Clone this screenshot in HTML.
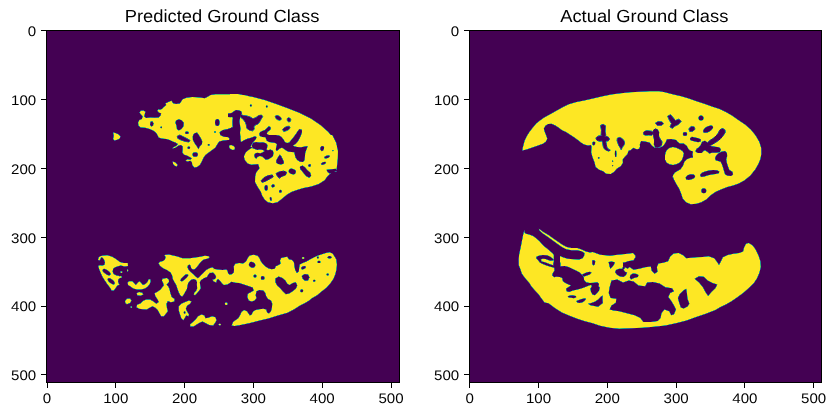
<!DOCTYPE html>
<html><head><meta charset="utf-8"><title>Predicted vs Actual Ground Class</title>
<style>html,body{margin:0;padding:0;background:#fff}body{width:836px;height:416px;overflow:hidden}svg{display:block}text{font-family:"Liberation Sans",sans-serif;fill:#000;text-rendering:geometricPrecision}</style></head><body>
<svg width="836" height="416" viewBox="0 0 836 416">
<rect x="0" y="0" width="836" height="416" fill="#fff"/>
<defs>
<filter id="vir" filterUnits="userSpaceOnUse" x="40" y="24" width="790" height="366" color-interpolation-filters="sRGB"><feGaussianBlur stdDeviation="0.38"/><feComponentTransfer><feFuncR type="table" tableValues="0.2670 0.2770 0.2823 0.2829 0.2788 0.2706 0.2590 0.2450 0.2297 0.2143 0.1994 0.1856 0.1727 0.1607 0.1490 0.1378 0.1276 0.1206 0.1206 0.1323 0.1579 0.1966 0.2461 0.3041 0.3692 0.4401 0.5160 0.5958 0.6785 0.7624 0.8456 0.9261 0.9932"/><feFuncG type="table" tableValues="0.0049 0.0503 0.0950 0.1359 0.1755 0.2141 0.2515 0.2877 0.3224 0.3556 0.3876 0.4186 0.4488 0.4785 0.5081 0.5375 0.5669 0.5964 0.6258 0.6550 0.6838 0.7118 0.7389 0.7647 0.7889 0.8111 0.8312 0.8487 0.8637 0.8764 0.8873 0.8973 0.9062"/><feFuncB type="table" tableValues="0.3294 0.3757 0.4173 0.4534 0.4834 0.5071 0.5247 0.5373 0.5457 0.5512 0.5546 0.5568 0.5579 0.5581 0.5573 0.5549 0.5506 0.5436 0.5335 0.5197 0.5017 0.4792 0.4520 0.4199 0.3829 0.3410 0.2943 0.2433 0.1895 0.1371 0.0997 0.1041 0.1439"/><feFuncA type="linear" slope="0" intercept="1"/></feComponentTransfer></filter>
<clipPath id="clip0"><rect x="46.5" y="30.5" width="353.0" height="352.0"/></clipPath>
<clipPath id="clip1"><rect x="469.5" y="30.5" width="352.0" height="352.0"/></clipPath>
</defs>
<g clip-path="url(#clip0)"><g filter="url(#vir)">
<rect x="43.5" y="27.5" width="359.0" height="358.0" fill="#000"/>
<g id="left-mask">
<polygon points="248.1,96.0 242.3,94.9 234.6,94.3 223.1,94.3 215.4,94.3 210.6,94.9 207.7,96.8 204.8,98.2 200.0,97.4 192.3,97.0 186.5,97.8 182.7,99.3 181.2,101.6 179.8,103.5 176.0,103.9 173.1,103.2 171.5,100.8 168.3,102.0 165.4,103.5 166.3,105.1 163.8,107.0 161.9,108.9 160.0,109.7 158.3,109.3 157.3,110.8 159.2,112.8 161.2,113.2 160.6,115.5 158.7,117.4 154.8,117.8 150.4,117.4 146.2,118.0 144.2,116.6 144.8,114.1 145.4,111.8 143.5,110.5 140.8,110.7 139.4,112.4 140.8,114.3 142.7,116.2 141.9,118.9 139.4,119.9 138.1,122.4 138.5,125.8 140.8,127.4 145.2,127.8 149.6,128.9 153.1,130.5 155.8,132.4 157.3,134.7 158.7,137.4 161.5,138.5 166.3,138.9 169.6,140.1 172.7,141.6 175.4,142.4 177.9,143.9 176.5,145.8 173.1,147.4 172.5,148.5 175.4,147.8 178.1,145.8 180.8,144.9 182.7,146.2 182.7,149.7 182.3,152.6 184.2,154.7 186.9,155.5 189.6,157.0 191.9,158.3 190.4,159.7 187.5,159.3 185.6,160.8 187.5,161.6 190.4,160.8 191.9,162.2 192.3,165.1 194.2,167.4 197.1,167.0 200.0,164.7 201.9,161.2 203.5,157.8 205.4,155.1 208.7,152.6 212.5,149.7 215.4,147.4 217.3,144.3 219.2,141.6 223.1,140.5 227.9,140.1 248.1,140.1" fill="#fff"/>
<polygon points="113.1,132.4 115.4,133.0 118.3,134.3 120.4,136.2 119.8,138.5 117.3,139.7 114.4,140.5 113.1,139.1 113.8,135.8" fill="#fff"/>
<polygon points="172.7,161.6 175.4,162.4 177.5,164.7 176.9,166.6 174.6,165.8 173.1,163.9" fill="#fff"/>
<polygon points="230.0,93.9 237.7,94.1 245.4,95.5 253.1,97.0 264.6,100.1 276.2,103.9 287.7,108.2 299.2,112.8 310.8,118.5 320.4,125.1 328.1,131.8 333.5,138.2 336.3,144.9 337.9,151.6 337.7,159.3 336.9,167.0 336.2,172.0 260.8,172.0 252.5,147.6 240.0,142.0 233.8,140.1 230.0,140.1" fill="#fff"/>
<polygon points="252.5,147.5 249.2,149.4 245.8,152.3 243.8,156.2 244.8,160.0 247.7,163.5 251.5,164.8 256.3,164.2 261.2,163.8 262.1,165.8 259.2,168.7 256.2,172.5 255.2,176.3 255.0,182.1 257.7,186.9 260.8,191.7 262.1,195.6 264.6,199.4 267.9,202.3 272.7,203.3 277.5,202.3 282.3,198.5 287.1,194.6 291.9,191.7 297.7,189.8 303.5,187.9 311.2,186.5 318.8,184.0 324.6,180.2 327.5,176.3 330.4,173.5 334.2,170.6 336.2,165.8 337.3,158.1 337.7,150.4 336.2,142.7 332.3,135.0 253.5,135.0" fill="#fff"/>
<polygon points="150.4,121.8 152.3,121.2 153.5,123.2 153.1,125.8 151.2,126.6 150.0,124.7" fill="#000"/>
<ellipse cx="161.2" cy="127.4" rx="0.8" ry="0.8" transform="rotate(0 161.2 127.4)" fill="#000"/>
<polygon points="176.0,120.5 178.8,119.3 181.7,120.3 183.8,122.8 183.5,126.2 181.5,128.9 178.8,130.5 176.9,128.9 176.5,125.7 175.4,122.8" fill="#000"/>
<ellipse cx="186.9" cy="132.8" rx="1.9" ry="1.3" transform="rotate(0 186.9 132.8)" fill="#000"/>
<polygon points="177.3,136.2 179.8,135.1 183.7,137.0 187.5,138.9 190.0,140.5 188.8,142.0 184.6,141.2 180.4,139.7 177.7,138.2" fill="#000" stroke="#000" stroke-width="0.7" stroke-linejoin="round"/>
<polygon points="194.6,133.3 197.1,132.4 199.0,135.3 201.0,138.5 202.3,141.6 201.9,144.3 199.6,146.8 198.5,149.3 197.1,146.8 194.8,143.5 192.9,140.1 192.7,136.6 193.5,134.3" fill="#000"/>
<ellipse cx="188.8" cy="147.8" rx="1.3" ry="1.2" transform="rotate(0 188.8 147.8)" fill="#000"/>
<ellipse cx="195.2" cy="154.5" rx="2.7" ry="2.3" transform="rotate(0 195.2 154.5)" fill="#000"/>
<ellipse cx="208.7" cy="144.9" rx="1.0" ry="0.8" transform="rotate(0 208.7 144.9)" fill="#000"/>
<ellipse cx="215.0" cy="132.0" rx="0.8" ry="0.8" transform="rotate(0 215.0 132.0)" fill="#000"/>
<ellipse cx="217.3" cy="122.4" rx="2.3" ry="3.5" transform="rotate(0 217.3 122.4)" fill="#000"/>
<polygon points="220.2,132.4 223.1,130.5 227.9,129.5 231.7,128.2 234.6,127.6 238.5,130.5 238.5,142.4 228.8,142.4 230.0,138.9 229.2,136.6 224.0,136.2 220.8,134.7" fill="#000" stroke="#000" stroke-width="1.2" stroke-linejoin="round"/>
<polygon points="228.0,113.5 231.5,113.0 234.0,111.2 235.8,110.0 238.6,110.2 241.2,111.2 242.0,113.2 241.0,115.2 240.2,117.5 239.5,121.2 240.0,125.0 240.5,128.8 240.0,132.8 240.5,137.5 228.0,137.5 228.0,129.0 230.5,128.8 232.8,127.8 232.5,125.0 232.4,121.2 232.8,118.0 232.2,117.0 230.5,117.2 228.0,117.0" fill="#000"/>
<polygon points="241.0,114.8 243.6,115.6 246.8,116.0 249.9,116.9 253.0,118.8 256.1,117.5 258.6,115.6 261.5,115.1 262.6,116.5 261.0,119.2 259.5,121.9 257.8,124.0 255.2,125.0 253.8,126.8 254.2,129.2 252.5,130.8 249.2,130.0 246.8,128.2 246.4,125.0 245.5,122.5 243.8,120.0 242.0,118.2 240.5,116.9" fill="#000" stroke="#000" stroke-width="0.7" stroke-linejoin="round"/>
<polygon points="275.2,116.2 277.0,115.5 279.2,116.2 281.0,117.8 281.2,119.4 279.8,120.2 277.8,119.8 276.0,118.5" fill="#000" stroke="#000" stroke-width="0.6" stroke-linejoin="round"/>
<polygon points="287.1,118.8 288.2,117.8 290.0,118.2 290.9,119.8 290.2,121.5 288.8,122.0 287.4,120.8" fill="#000" stroke="#000" stroke-width="0.5" stroke-linejoin="round"/>
<ellipse cx="250.9" cy="105.6" rx="1.0" ry="1.0" transform="rotate(0 250.9 105.6)" fill="#000"/>
<ellipse cx="266.8" cy="106.5" rx="0.9" ry="0.9" transform="rotate(0 266.8 106.5)" fill="#000"/>
<polygon points="320.2,149.0 321.5,146.9 323.2,146.2 324.2,147.5 323.2,149.5 321.5,150.8" fill="#000"/>
<polygon points="231.0,127.5 239.5,127.5 239.0,131.2 239.8,135.0 240.5,138.8 241.0,141.9 243.5,140.6 247.2,138.8 251.0,137.8 254.8,136.2 256.6,136.9 256.0,138.8 254.8,140.6 252.9,142.5 251.6,144.8 250.0,147.8 247.5,150.0 245.4,152.5 244.1,155.6 243.8,158.8 244.2,161.2 241.0,170.0 231.0,170.0" fill="#000"/>
<polygon points="268.8,126.2 270.5,127.0 270.8,129.0 269.2,130.8 267.5,132.0 266.8,133.8 268.8,135.0 272.2,135.0 276.0,135.1 279.1,135.6 281.6,136.9 283.5,139.4 285.0,141.9 287.0,142.9 289.1,142.5 290.6,140.8 292.5,138.5 294.4,136.0 296.2,133.5 297.8,131.0 299.4,129.1 301.9,129.8 302.0,132.2 301.0,135.2 299.5,138.5 297.8,141.5 295.6,144.0 292.9,145.4 294.1,146.2 297.2,146.9 301.0,147.2 304.8,146.5 307.5,146.0 307.2,147.8 306.2,150.0 305.2,153.1 304.9,156.9 304.5,160.2 302.9,162.0 300.0,161.8 297.2,160.0 295.5,157.5 294.8,154.8 294.2,152.2 291.6,152.0 288.5,151.8 286.0,150.6 284.1,149.0 282.0,147.8 279.8,148.5 278.2,150.0 276.6,151.0 275.8,149.4 276.2,146.9 277.0,144.4 275.4,142.9 272.2,142.5 268.8,142.0 266.6,140.6 266.0,138.8 265.4,137.2 262.2,136.9 259.8,136.0 259.2,133.8 260.2,132.0 262.2,131.0 264.8,130.0 267.0,128.0" fill="#000"/>
<polygon points="252.9,142.8 256.0,142.0 259.8,142.5 262.9,142.2 266.0,143.2 267.5,145.0 267.2,147.5 266.6,149.4 267.9,150.2 270.4,149.5 272.9,150.8 273.5,153.1 273.0,156.0 271.0,157.8 268.5,159.2 265.8,159.8 263.8,158.1 262.0,156.5 259.8,156.0 257.5,157.0 256.2,158.8 254.8,157.5 254.2,155.2 255.0,153.5 257.2,152.8 260.4,153.2 262.9,152.2 264.5,151.0 262.9,150.0 259.8,149.5 257.2,150.0 254.8,149.0 252.5,148.2 251.8,145.6" fill="#000"/>
<polygon points="279.8,154.5 281.2,156.2 282.5,158.8 284.0,161.9 283.5,163.8 281.0,164.5 278.2,164.0 276.2,162.8 276.2,160.6 277.5,158.1 278.8,156.0" fill="#000"/>
<polygon points="321.5,146.0 323.2,146.2 324.0,148.2 323.2,150.5 321.8,151.2 320.5,149.8 320.5,147.5" fill="#000"/>
<polygon points="324.2,157.0 326.2,155.8 329.0,155.2 330.0,156.2 328.5,157.8 326.0,158.5 324.5,158.2" fill="#000"/>
<polygon points="320.8,163.8 322.8,162.2 325.2,161.8 326.2,162.8 324.5,164.2 322.0,165.0" fill="#000"/>
<ellipse cx="332.9" cy="150.6" rx="0.6" ry="0.6" transform="rotate(0 332.9 150.6)" fill="#000"/>
<polygon points="308.5,165.2 309.8,164.0 311.0,164.8 310.5,166.5 309.0,166.8" fill="#000"/>
<polygon points="299.8,166.9 301.5,166.0 302.8,167.5 302.2,170.0 300.5,169.8" fill="#000"/>
<polygon points="282.5,129.5 284.2,127.8 286.8,126.5 289.2,126.2 290.1,127.8 288.8,129.5 286.2,130.8 283.8,131.5" fill="#000" stroke="#000" stroke-width="0.5" stroke-linejoin="round"/>
<polygon points="229.2,145.6 231.1,145.0 233.6,146.0 235.0,147.8 234.5,149.5 232.8,150.0 230.5,149.0 229.2,147.5" fill="#fff"/>
<polygon points="300.0,166.7 302.5,165.4 305.0,167.3 307.3,170.0 310.2,172.5 311.2,175.8 309.2,177.7 306.3,176.3 303.8,173.5 301.5,170.6" fill="#000"/>
<ellipse cx="309.2" cy="165.4" rx="1.0" ry="1.0" transform="rotate(0 309.2 165.4)" fill="#000"/>
<ellipse cx="292.3" cy="171.5" rx="3.7" ry="2.7" transform="rotate(20 292.3 171.5)" fill="#000"/>
<polygon points="261.2,180.8 264.0,177.7 267.9,175.8 272.3,175.0 273.1,176.9 269.8,178.8 265.4,181.2 262.1,182.3" fill="#000" stroke="#000" stroke-width="0.9" stroke-linejoin="round"/>
<polygon points="276.2,173.5 279.4,171.9 283.8,171.2 286.5,172.3 285.4,175.0 281.9,176.2 279.4,178.1 277.7,176.5" fill="#000" stroke="#000" stroke-width="1.0" stroke-linejoin="round"/>
<ellipse cx="266.2" cy="187.9" rx="1.7" ry="2.9" transform="rotate(0 266.2 187.9)" fill="#000"/>
<ellipse cx="273.1" cy="185.8" rx="1.7" ry="1.5" transform="rotate(-30 273.1 185.8)" fill="#000"/>
<ellipse cx="280.4" cy="191.3" rx="1.3" ry="1.5" transform="rotate(0 280.4 191.3)" fill="#000"/>
<ellipse cx="270.8" cy="198.8" rx="1.0" ry="1.9" transform="rotate(-10 270.8 198.8)" fill="#000"/>
<polygon points="326.5,169.8 335.8,168.8 337.3,170.8 332.7,172.7 329.4,173.5 327.5,171.9" fill="#000"/>
<polygon points="98.7,257.5 100.2,256.2 103.1,255.6 107.4,255.3 112.2,256.7 116.0,259.1 119.9,262.0 123.7,263.0 127.8,263.0 128.0,265.9 124.7,266.5 120.8,265.4 118.0,266.3 115.1,267.3 113.2,268.8 112.6,271.6 113.6,274.0 116.5,275.5 119.4,276.0 120.5,277.4 118.4,279.3 118.0,281.2 118.5,283.2 119.5,284.6 117.2,285.8 115.3,288.5 113.9,290.4 111.7,290.4 110.1,287.7 107.4,284.2 105.0,280.8 102.6,276.9 100.7,273.1 99.2,269.2 98.2,265.9 99.7,265.2 102.1,265.4 104.3,264.9 105.0,262.5 104.0,259.6 102.6,257.7 101.1,257.2 100.5,259.1 99.3,260.6 98.0,259.8" fill="#fff"/>
<ellipse cx="106.6" cy="272.1" rx="4.6" ry="2.1" transform="rotate(35 106.6 272.1)" fill="#000"/>
<ellipse cx="111.2" cy="281.2" rx="4.3" ry="1.9" transform="rotate(40 111.2 281.2)" fill="#000"/>
<ellipse cx="121.3" cy="272.1" rx="1.0" ry="0.9" transform="rotate(0 121.3 272.1)" fill="#fff"/>
<ellipse cx="120.8" cy="277.1" rx="1.0" ry="1.0" transform="rotate(0 120.8 277.1)" fill="#fff"/>
<ellipse cx="127.6" cy="270.4" rx="0.5" ry="1.2" transform="rotate(0 127.6 270.4)" fill="#fff"/>
<polygon points="127.6,282.7 129.0,281.2 132.4,281.2 134.3,283.2 135.8,285.1 138.2,282.2 139.6,281.2 141.0,282.7 143.0,285.1 145.4,284.1 147.3,282.2 148.7,279.3 150.2,279.3 150.7,281.2 149.7,284.1 147.8,286.5 144.9,288.5 141.0,289.4 137.2,289.6 133.3,288.5 130.5,286.5 128.1,285.1" fill="#fff"/>
<polygon points="136.7,293.3 139.0,292.1 142.3,292.7 143.3,294.6 140.4,295.8 137.3,295.2" fill="#fff"/>
<polygon points="125.0,301.0 126.9,298.8 130.0,298.5 131.5,300.4 130.0,303.1 126.9,304.2 125.4,302.9" fill="#fff"/>
<ellipse cx="131.3" cy="307.1" rx="0.8" ry="0.8" transform="rotate(0 131.3 307.1)" fill="#fff"/>
<polygon points="162.5,278.8 166.9,278.1 168.8,279.4 169.0,281.9 167.7,283.5 166.5,284.8 168.1,286.3 169.4,288.8 170.4,293.3 171.7,297.1 174.6,299.0 174.2,301.5 170.8,302.3 167.9,301.0 166.5,303.8 166.9,307.7 167.9,311.2 166.0,313.5 164.0,316.3 161.2,316.3 159.6,313.5 157.7,310.0 155.4,307.7 152.5,306.2 149.6,307.7 146.7,309.6 142.9,309.2 139.0,308.7 136.5,307.3 137.1,304.8 140.4,303.5 142.9,301.0 146.2,299.6 150.0,299.6 153.5,301.5 156.3,303.8 158.8,301.9 157.3,299.0 155.4,296.2 154.6,293.3 157.5,291.7 160.6,289.4 161.9,287.7 163.8,285.6 163.1,282.7 161.9,280.8" fill="#fff"/>
<polygon points="164.4,255.1 168.8,254.5 173.1,255.5 177.5,256.5 182.5,258.2 190.0,258.2 195.0,257.6 198.8,257.0 205.0,255.8 208.8,256.2 209.5,257.2 208.1,258.5 203.8,259.5 201.2,261.4 198.8,264.5 196.9,267.0 195.0,268.9 193.1,269.5 191.2,268.2 190.6,265.8 189.4,264.5 187.8,265.5 187.5,267.6 188.8,270.1 190.6,272.0 193.1,273.9 195.6,276.4 197.8,278.2 199.4,277.0 201.2,275.1 203.8,272.6 206.2,270.1 209.4,268.2 212.5,267.2 214.4,268.9 210.0,272.6 208.1,275.1 206.9,277.0 203.8,278.2 201.2,280.1 199.8,282.0 200.2,285.5 200.8,288.2 199.0,290.8 197.0,293.2 195.0,295.2 193.8,294.5 194.4,292.6 196.2,290.8 197.2,288.2 196.9,285.1 197.0,282.0 196.0,280.1 193.8,279.0 191.2,279.8 189.4,281.4 188.1,283.2 187.5,285.8 186.9,288.9 185.2,292.0 183.8,294.5 182.2,296.5 180.6,295.8 178.8,292.6 177.5,288.9 176.2,285.1 174.4,282.0 172.8,278.9 172.2,275.8 170.6,272.6 166.9,270.1 163.1,268.2 160.0,265.8 158.5,263.2 160.0,261.8 163.1,261.0 165.0,259.5 165.6,257.0" fill="#fff"/>
<polygon points="187.2,274.2 188.5,275.1 186.9,277.6 184.4,279.8 181.9,281.4 180.2,280.5 181.5,278.2 183.8,276.0 185.6,274.5" fill="#000"/>
<polygon points="178.8,306.2 181.3,303.8 185.2,301.9 189.0,300.4 191.5,301.5 190.0,303.8 187.1,305.8 185.8,308.7 187.1,311.5 189.0,314.4 188.5,316.3 186.2,315.4 184.6,318.3 183.3,320.2 181.3,318.3 180.0,314.4 178.8,310.6" fill="#fff"/>
<ellipse cx="184.6" cy="312.5" rx="0.8" ry="1.3" transform="rotate(0 184.6 312.5)" fill="#000"/>
<polygon points="190.0,324.6 192.9,322.1 195.8,319.2 198.1,316.3 201.5,314.4 204.4,315.4 205.4,318.3 208.3,317.7 212.1,316.3 215.4,317.3 216.5,320.2 215.0,323.1 213.1,325.4 209.2,325.0 205.4,323.1 202.5,321.5 199.6,322.7 196.7,324.6 193.5,326.5 190.4,326.5" fill="#fff"/>
<ellipse cx="219.8" cy="324.6" rx="1.2" ry="0.8" transform="rotate(0 219.8 324.6)" fill="#fff"/>
<ellipse cx="226.2" cy="303.8" rx="1.2" ry="1.0" transform="rotate(0 226.2 303.8)" fill="#fff"/>
<polygon points="215.0,274.5 213.1,272.6 210.6,273.0 209.4,272.0 212.5,269.5 214.4,268.9 217.5,269.5 222.5,270.1 226.2,269.5 227.5,270.8 228.1,273.2 229.4,274.5 231.9,274.2 233.8,272.6 234.0,269.5 233.8,266.3 235.4,263.8 239.2,263.1 243.1,263.5 246.0,261.5 247.9,257.7 249.8,255.4 253.7,254.8 257.5,255.8 259.4,258.1 260.8,261.2 262.7,263.8 265.2,266.3 268.1,268.3 271.5,269.2 274.8,268.8 275.8,266.3 277.7,265.4 280.6,263.8 280.0,260.6 281.2,258.1 284.4,257.3 287.3,256.7 288.8,259.2 292.1,260.0 294.0,262.5 294.4,266.3 295.2,270.0 296.9,273.1 298.8,271.5 299.2,267.7 299.8,264.4 302.7,263.1 306.5,261.5 310.4,259.2 314.2,257.3 318.1,255.4 321.9,254.2 325.8,252.9 329.6,252.3 332.5,253.5 334.4,256.2 336.3,259.6 336.9,264.4 336.5,269.2 335.4,274.0 333.5,278.8 330.6,283.1 326.7,287.5 321.9,291.3 317.1,295.2 312.3,298.1 308.8,300.8 305.0,303.1 300.0,305.6 294.2,309.2 287.5,312.7 277.9,315.6 268.3,318.5 258.7,320.8 249.0,323.3 239.4,325.2 234.4,326.0 231.7,325.4 233.1,322.1 235.4,320.2 238.3,318.3 240.2,315.0 241.5,311.9 244.0,310.0 246.9,311.2 248.5,313.5 249.8,315.4 251.7,314.4 253.1,311.5 255.6,310.0 259.4,309.2 263.3,308.7 266.2,309.6 267.1,312.5 269.0,313.5 271.0,311.2 271.9,307.7 272.3,303.8 271.0,300.4 268.1,299.0 266.2,296.2 265.2,292.7 263.3,290.4 259.4,290.0 256.5,291.3 255.6,295.2 256.5,298.1 254.6,300.4 251.7,301.5 248.8,300.4 247.3,297.1 247.9,293.8 250.8,292.3 253.7,290.4 252.7,287.5 249.8,286.5 246.9,285.6 243.1,284.2 239.2,283.1 235.4,282.7 231.5,281.7 227.5,284.6 223.8,285.1 221.9,283.2 220.0,280.8 218.1,278.9 216.9,280.1 216.2,282.6 213.8,281.4 212.5,279.8 215.0,278.9 216.2,277.0" fill="#fff"/>
<ellipse cx="252.1" cy="264.8" rx="3.3" ry="2.7" transform="rotate(30 252.1 264.8)" fill="#000"/>
<ellipse cx="255.0" cy="276.0" rx="1.5" ry="1.5" transform="rotate(0 255.0 276.0)" fill="#000"/>
<ellipse cx="262.7" cy="277.9" rx="1.9" ry="1.9" transform="rotate(0 262.7 277.9)" fill="#000"/>
<polygon points="275.4,278.5 278.7,276.5 282.5,277.9 285.4,280.4 287.3,283.7 289.6,285.0 292.7,283.1 295.8,282.3 297.3,285.4 295.8,288.8 292.7,291.2 289.2,293.5 285.8,294.2 282.7,291.2 280.0,288.1 277.3,285.8 275.4,282.3" fill="#000"/>
<polygon points="301.7,276.0 304.6,274.0 308.1,274.6 309.4,277.3 308.1,280.4 305.0,280.8 302.7,278.8" fill="#000"/>
<ellipse cx="301.7" cy="290.8" rx="1.5" ry="1.5" transform="rotate(0 301.7 290.8)" fill="#000"/>
<ellipse cx="314.2" cy="280.8" rx="1.2" ry="1.0" transform="rotate(0 314.2 280.8)" fill="#000"/>
<ellipse cx="327.7" cy="274.6" rx="1.2" ry="1.0" transform="rotate(0 327.7 274.6)" fill="#000"/>
<ellipse cx="319.0" cy="261.9" rx="1.5" ry="1.2" transform="rotate(0 319.0 261.9)" fill="#000"/>
<ellipse cx="329.6" cy="257.3" rx="1.9" ry="1.2" transform="rotate(0 329.6 257.3)" fill="#000"/>
<ellipse cx="303.1" cy="258.1" rx="1.2" ry="1.0" transform="rotate(0 303.1 258.1)" fill="#fff"/>
<ellipse cx="226.2" cy="303.8" rx="1.3" ry="1.2" transform="rotate(0 226.2 303.8)" fill="#fff"/>
<ellipse cx="303.5" cy="267.7" rx="2.5" ry="1.5" transform="rotate(-20 303.5 267.7)" fill="#000"/>
<ellipse cx="317.9" cy="257.5" rx="1.0" ry="1.0" transform="rotate(0 317.9 257.5)" fill="#000"/>
</g>
</g></g>
<g clip-path="url(#clip1)"><g filter="url(#vir)">
<rect x="466.5" y="27.5" width="358.0" height="358.0" fill="#000"/>
<g id="right-mask">
<polygon points="522.3,150.4 522.7,148.1 524.6,140.8 526.9,136.0 529.4,132.1 532.7,127.7 536.2,123.5 540.0,120.4 543.8,117.7 551.5,113.5 557.3,110.2 563.1,107.1 568.8,104.2 576.5,101.9 584.2,100.4 591.9,98.8 601.5,96.5 611.2,94.6 620.8,93.3 630.4,92.3 640.0,91.7 649.6,91.3 659.2,91.3 665.0,92.3 667.7,93.1 673.5,94.6 681.2,96.2 688.8,98.5 696.5,101.3 704.2,103.8 711.9,106.5 719.6,109.0 726.3,112.3 731.9,115.4 738.3,120.0 745.0,124.6 750.8,129.6 755.6,135.4 759.4,142.1 761.2,147.9 761.3,152.7 761.3,154.2 760.4,159.0 758.5,163.8 755.2,169.6 750.4,175.4 744.6,180.2 738.8,183.5 733.1,185.4 727.3,186.9 721.5,189.2 715.8,191.7 711.0,195.0 706.2,199.4 701.3,202.3 696.5,203.8 690.8,204.2 686.0,202.3 682.7,198.5 681.2,193.7 679.2,188.8 676.3,184.0 673.8,179.2 672.5,175.4 672.8,178.0 673.1,174.9 675.0,172.4 677.5,171.1 680.6,169.2 683.1,165.5 684.4,161.8 686.9,159.2 690.0,158.0 693.1,157.4 692.5,154.2 693.1,151.5 690.0,150.5 688.1,148.6 686.9,146.1 683.8,143.6 680.0,143.6 677.5,141.8 676.2,139.9 671.2,139.0 666.9,139.2 665.6,142.4 663.1,146.1 658.8,148.0 655.0,148.0 651.9,145.5 649.4,142.4 645.0,141.5 641.2,141.1 640.5,142.5 639.8,144.4 640.0,146.8 639.0,148.8 637.1,149.2 635.2,148.8 633.8,147.8 632.3,148.8 630.4,150.2 628.5,150.7 627.5,154.0 624.6,157.1 622.7,159.6 622.9,163.1 620.6,166.3 616.7,168.8 614.2,171.7 610.8,174.0 606.2,173.7 603.1,171.3 599.2,169.8 595.6,167.0 594.5,162.2 592.6,157.4 591.2,152.6 591.5,146.8 591.0,145.0 588.1,145.6 584.2,144.6 581.3,142.7 577.5,139.8 573.7,136.9 569.8,134.6 566.0,132.1 562.1,130.2 558.8,127.7 555.4,125.4 551.5,123.8 548.1,124.0 545.4,125.8 543.8,128.8 544.8,132.1 546.2,135.4 547.3,138.8 545.8,141.7 542.9,143.7 538.1,145.6 532.3,147.5 526.5,149.4" fill="#fff"/>
<polygon points="666.9,149.9 669.4,148.0 672.8,147.0 676.2,147.8 679.4,149.2 682.5,151.1 683.8,153.6 683.1,156.8 681.9,159.9 679.8,162.4 676.9,164.0 673.1,164.9 669.4,164.2 666.5,162.4 665.0,159.2 665.0,155.5 665.6,152.4" fill="#fff"/>
<polygon points="600.6,125.4 603.1,124.4 605.4,125.8 605.0,131.2 605.8,135.4 603.5,136.5 601.2,135.0 601.5,130.2" fill="#000" stroke="#000" stroke-width="0.8" stroke-linejoin="round"/>
<polygon points="643.8,132.1 646.7,130.8 651.5,131.2 653.8,132.7 651.9,134.6 647.7,134.6 644.2,134.2" fill="#000" stroke="#000" stroke-width="0.7" stroke-linejoin="round"/>
<polygon points="655.4,123.1 658.3,121.5 662.1,121.9 663.5,123.8 661.2,125.4 657.3,125.4" fill="#000" stroke="#000" stroke-width="0.5" stroke-linejoin="round"/>
<polygon points="653.8,130.2 657.3,129.2 659.2,132.1 658.8,136.9 659.6,142.7 658.3,147.5 655.4,148.1 653.8,144.6 654.4,138.8 653.5,134.0" fill="#000"/>
<polygon points="596.2,137.7 598.2,136.2 601.5,135.8 605.4,136.2 608.3,137.2 609.4,139.1 608.3,140.8 605.4,141.1 602.5,140.8 599.6,141.1 597.2,140.4 596.2,139.1" fill="#000" stroke="#000" stroke-width="0.9" stroke-linejoin="round"/>
<polygon points="602.5,140.6 605.4,140.6 606.3,144.4 606.8,147.3 608.3,149.2 610.2,150.2 608.8,151.0 606.3,150.2 604.4,148.8 603.3,146.3" fill="#000" stroke="#000" stroke-width="0.9" stroke-linejoin="round"/>
<polygon points="617.4,138.2 619.8,137.5 622.2,138.7 623.8,140.6 624.6,143.0 623.7,145.4 622.2,147.3 621.2,149.7 620.3,147.8 618.8,145.4 617.9,143.0 617.1,140.6" fill="#000" stroke="#000" stroke-width="0.7" stroke-linejoin="round"/>
<polygon points="592.4,142.5 593.8,141.5 595.3,142.3 595.0,144.4 593.7,145.4 592.4,144.4" fill="#000"/>
<polygon points="615.0,150.7 616.2,150.7 616.5,154.0 616.2,157.1 615.2,156.9 614.8,154.0" fill="#000"/>
<ellipse cx="598.7" cy="157.9" rx="0.8" ry="0.8" transform="rotate(0 598.7 157.9)" fill="#000"/>
<ellipse cx="612.6" cy="161.2" rx="0.6" ry="0.6" transform="rotate(0 612.6 161.2)" fill="#000"/>
<ellipse cx="612.6" cy="165.6" rx="0.6" ry="0.6" transform="rotate(0 612.6 165.6)" fill="#000"/>
<polygon points="667.7,116.2 670.6,114.8 673.1,117.7 675.4,120.6 678.8,119.2 681.2,121.2 678.3,124.4 674.4,126.3 672.5,128.3 670.0,126.9 671.5,123.5 669.6,120.6" fill="#000" stroke="#000" stroke-width="0.7" stroke-linejoin="round"/>
<ellipse cx="701.0" cy="118.1" rx="2.5" ry="2.5" transform="rotate(0 701.0 118.1)" fill="#000"/>
<polygon points="688.8,128.8 691.2,126.5 694.2,126.9 695.0,129.2 692.7,131.2 689.8,131.5" fill="#000" stroke="#000" stroke-width="0.6" stroke-linejoin="round"/>
<ellipse cx="708.1" cy="129.2" rx="5.6" ry="2.7" transform="rotate(-30 708.1 129.2)" fill="#000"/>
<polygon points="643.5,132.8 645.0,131.2 648.1,131.5 651.2,132.4 652.8,133.6 651.9,135.2 648.8,134.9 645.6,135.2 643.8,134.5" fill="#000" stroke="#000" stroke-width="0.6" stroke-linejoin="round"/>
<polygon points="653.8,129.9 655.6,129.0 657.5,129.9 658.1,133.0 658.8,136.8 660.2,139.2 661.9,141.8 661.5,144.9 659.8,146.8 657.5,147.2 655.6,146.1 655.0,143.0 654.4,139.2 653.5,135.5 653.1,132.4" fill="#000" stroke="#000" stroke-width="1.0" stroke-linejoin="round"/>
<ellipse cx="685.0" cy="134.0" rx="2.2" ry="2.1" transform="rotate(0 685.0 134.0)" fill="#000"/>
<polygon points="690.0,138.2 691.9,136.8 695.0,137.4 698.5,138.2 701.0,139.5 700.6,141.5 698.1,142.2 695.0,141.5 691.9,140.8 690.2,139.9" fill="#000"/>
<polygon points="720.0,129.9 722.5,128.6 724.8,129.9 725.0,132.4 723.1,135.5 720.6,138.6 717.5,141.1 714.4,143.0 711.2,144.9 708.5,146.1 706.9,144.9 707.5,142.8 710.0,140.5 713.1,138.6 716.0,136.1 718.1,133.6" fill="#000" stroke="#000" stroke-width="1.0" stroke-linejoin="round"/>
<polygon points="702.5,142.4 705.0,141.5 706.9,143.0 708.5,146.1 711.2,146.8 715.0,147.4 718.8,148.0 720.2,149.5 719.4,151.5 716.2,152.0 712.5,151.8 709.4,152.8 707.5,151.1 705.0,149.2 703.1,150.5 701.2,152.4 698.1,152.4 696.2,151.1 697.2,149.2 699.4,147.8 701.2,145.5" fill="#000" stroke="#000" stroke-width="1.4" stroke-linejoin="round"/>
<polygon points="718.1,153.6 721.2,151.8 725.0,151.1 726.9,153.0 727.2,156.1 726.2,159.2 726.9,163.0 728.1,166.8 729.4,169.9 732.5,171.8 733.1,174.5 731.2,176.1 727.5,175.8 725.0,174.2 724.0,171.1 723.1,167.8 721.9,164.2 720.6,161.8 718.1,161.1 715.6,160.2 715.0,158.0 716.2,155.5" fill="#000"/>
<polygon points="700.2,174.5 701.9,172.8 705.0,171.5 708.8,170.5 713.1,169.9 716.9,170.2 719.4,171.5 718.8,173.2 715.6,174.0 711.9,174.5 708.1,175.2 704.4,176.5 701.5,177.0 700.2,176.1" fill="#000"/>
<polygon points="685.6,177.4 687.5,175.2 690.6,174.2 693.8,174.5 695.2,176.1 694.4,178.0 691.9,179.2 688.8,180.0 686.2,179.5" fill="#000"/>
<ellipse cx="703.8" cy="190.8" rx="2.5" ry="2.5" transform="rotate(0 703.8 190.8)" fill="#000"/>
<polygon points="523.9,231.7 525.4,229.3 532.1,227.9 539.3,229.0 543.7,232.2 548.5,235.1 553.3,238.5 558.1,241.8 562.4,244.7 566.7,246.9 571.5,248.1 577.3,248.1 581.6,249.5 586.0,251.4 590.0,252.4 592.7,252.0 600.4,254.7 610.0,255.8 617.7,254.7 625.4,253.9 633.1,253.0 635.4,255.8 635.4,257.3 633.5,260.2 627.7,261.2 623.8,263.1 622.9,266.0 627.7,268.8 629.6,266.9 633.5,269.8 639.2,268.8 645.0,267.3 650.8,266.5 651.7,270.8 654.6,273.7 657.5,271.7 656.9,266.9 658.5,263.5 663.3,262.7 668.1,261.2 670.4,256.3 673.8,253.5 678.7,253.1 683.5,255.4 686.3,258.3 691.2,257.7 696.9,257.3 702.7,256.9 708.5,256.3 714.2,258.3 717.1,262.1 719.0,265.0 721.0,261.2 722.9,257.3 727.7,255.0 733.5,253.8 739.2,253.1 743.1,251.5 744.0,247.7 746.0,243.8 748.8,242.9 752.7,245.4 755.6,249.6 758.5,255.4 760.4,261.2 760.8,266.9 759.4,272.7 756.9,278.5 753.7,283.3 748.8,288.1 743.1,292.9 737.3,297.3 731.5,301.2 725.8,304.4 720.0,307.3 715.4,310.0 705.8,313.8 696.2,317.1 686.5,320.4 676.9,322.9 665.4,325.4 653.8,326.7 642.3,327.7 630.8,328.3 619.2,328.7 609.6,327.7 600.0,325.8 592.7,323.2 585.0,321.2 577.3,318.7 569.6,315.8 561.9,312.4 555.2,308.2 548.5,303.3 544.6,302.6 541.7,298.7 538.5,294.3 535.0,290.5 531.5,286.6 529.2,282.8 525.4,278.5 521.9,273.7 520.2,268.7 518.7,265.1 518.8,265.0 518.7,259.6 519.1,254.8 520.1,250.0 521.1,245.2 522.0,240.4 523.0,235.6" fill="#fff"/>
<polygon points="524.4,231.5 524.4,228.8 532.1,227.1 538.8,228.3 539.4,230.6 543.2,233.8 548.0,237.0 552.8,240.6 557.6,244.0 561.9,246.9 566.2,249.3 571.5,250.3 577.3,250.2 581.6,251.2 584.5,253.1 584.2,255.8 582.6,258.2 579.2,259.6 573.5,259.2 567.7,258.7 562.9,257.2 560.0,256.0 560.0,266.3 553.8,266.3 553.8,254.8 552.3,252.9 549.9,251.0 547.0,248.6 544.1,246.2 541.7,243.8 539.3,240.9 536.4,238.5 533.1,236.1 529.2,234.6 525.9,233.7 524.4,232.2" fill="#000"/>
<polygon points="536.4,256.7 538.8,255.8 542.7,255.0 547.0,255.3 550.4,256.7 552.8,258.7 554.2,260.1 552.3,260.6 550.4,260.8 548.0,260.1 545.6,259.1 542.7,258.8 540.8,259.6 541.7,261.5 544.1,262.0 547.0,263.0 549.4,263.9 552.3,265.0 554.2,265.4 554.2,267.8 550.4,266.8 546.5,265.4 542.7,263.9 539.8,262.5 537.9,260.1 536.2,258.2" fill="#000"/>
<polygon points="553.5,262.5 560.4,262.5 560.4,266.2 564.8,266.0 568.5,266.9 572.2,268.8 576.0,270.6 579.8,272.5 582.2,275.0 583.8,276.9 584.1,280.0 586.0,282.2 589.8,283.1 593.5,282.8 597.2,282.2 599.1,283.8 598.5,286.2 596.0,287.5 592.9,286.2 590.4,285.0 587.2,286.2 584.1,287.5 580.4,288.8 576.6,289.8 572.9,290.6 569.1,291.9 566.6,291.2 566.0,288.8 568.5,286.9 571.0,285.6 568.5,284.4 565.4,283.1 562.9,281.2 562.2,278.1 559.8,276.9 556.0,276.8 554.2,277.2 552.2,275.6 552.8,273.1 554.4,270.8 554.2,267.9 553.2,265.0" fill="#000"/>
<polygon points="581.6,275.0 584.1,273.5 587.2,272.2 590.0,271.8 591.6,272.8 589.8,274.4 587.0,275.6 584.1,276.5" fill="#000"/>
<polygon points="592.2,260.6 594.1,260.0 595.2,261.5 594.8,264.4 593.2,265.6 592.2,263.8" fill="#000"/>
<polygon points="608.5,261.9 611.6,261.5 614.8,262.2 614.1,264.4 612.2,266.9 610.4,268.8 609.5,266.2 609.0,263.8" fill="#000"/>
<polygon points="622.9,262.5 626.2,262.5 624.5,265.6 625.0,268.1 623.5,269.8 625.4,271.9 627.2,272.5 626.0,275.0 623.5,276.9 620.0,276.5 617.0,274.8 615.0,272.2 616.0,270.0 619.1,268.8 622.2,268.8 623.2,266.2" fill="#000"/>
<polygon points="630.4,275.0 632.9,273.5 636.0,273.8 638.5,275.0 637.9,276.9 634.1,278.1 631.0,279.4 629.8,277.5" fill="#000"/>
<polygon points="592.2,285.6 594.8,284.8 597.9,285.6 599.8,287.5 599.1,290.6 597.2,293.1 594.8,295.2 592.5,294.4 591.0,291.9 590.4,288.8" fill="#000"/>
<polygon points="567.7,296.2 570.1,295.6 572.5,295.3 575.9,296.0 576.3,297.2 573.9,298.2 571.1,297.7 568.7,297.5" fill="#000"/>
<polygon points="576.3,301.1 578.8,300.1 581.6,299.1 585.0,298.2 586.0,299.1 584.5,301.1 582.1,302.5 579.2,303.0 577.3,302.5" fill="#000"/>
<polygon points="588.0,303.8 591.3,302.9 595.2,301.4 598.1,299.5 601.0,296.6 602.7,295.5 602.5,299.0 602.9,302.9 601.0,304.4 598.1,306.7 594.2,306.0 590.4,305.3" fill="#000"/>
<polygon points="611.5,280.6 617.3,279.6 623.1,282.5 628.8,280.6 633.7,281.5 638.5,285.4 645.2,286.3 647.1,282.5 652.9,281.9 659.6,283.5 665.4,287.3 672.1,288.3 674.0,291.2 670.2,293.1 668.3,296.9 671.2,300.8 674.0,305.6 676.0,309.4 674.0,314.2 671.2,315.2 669.2,311.3 664.4,309.4 661.5,313.3 660.6,318.1 657.7,321.0 651.0,321.9 643.3,321.9 640.4,318.1 634.6,315.2 626.9,313.3 619.2,311.3 613.5,310.4 609.6,309.4 611.5,305.6 615.8,302.7 616.3,298.8 610.6,297.9 608.7,293.1 609.6,287.3" fill="#000"/>
<polygon points="677.9,297.9 679.8,294.0 683.7,290.2 686.2,288.8 686.9,293.1 687.5,298.8 689.4,303.7 687.5,306.5 683.7,308.5 680.8,307.5 679.2,302.7" fill="#000"/>
<polygon points="694.6,278.7 699.0,276.2 703.8,276.7 707.7,280.6 712.5,283.1 717.3,284.4 715.4,288.3 711.5,292.1 708.1,296.0 705.4,292.1 702.9,287.3 699.0,282.5" fill="#000"/>
</g>
</g></g>
<g stroke="#000" stroke-width="1" fill="none" shape-rendering="crispEdges">
<rect x="46.5" y="30.5" width="353.0" height="352.0"/>
<line x1="47.5" y1="383.0" x2="47.5" y2="388.0"/>
<line x1="41.0" y1="30.5" x2="46.0" y2="30.5"/>
<line x1="115.5" y1="383.0" x2="115.5" y2="388.0"/>
<line x1="41.0" y1="99.5" x2="46.0" y2="99.5"/>
<line x1="184.5" y1="383.0" x2="184.5" y2="388.0"/>
<line x1="41.0" y1="168.5" x2="46.0" y2="168.5"/>
<line x1="253.5" y1="383.0" x2="253.5" y2="388.0"/>
<line x1="41.0" y1="237.5" x2="46.0" y2="237.5"/>
<line x1="322.5" y1="383.0" x2="322.5" y2="388.0"/>
<line x1="41.0" y1="306.5" x2="46.0" y2="306.5"/>
<line x1="391.5" y1="383.0" x2="391.5" y2="388.0"/>
<line x1="41.0" y1="374.5" x2="46.0" y2="374.5"/>
<rect x="469.5" y="30.5" width="352.0" height="352.0"/>
<line x1="469.5" y1="383.0" x2="469.5" y2="388.0"/>
<line x1="464.0" y1="30.5" x2="469.0" y2="30.5"/>
<line x1="538.5" y1="383.0" x2="538.5" y2="388.0"/>
<line x1="464.0" y1="99.5" x2="469.0" y2="99.5"/>
<line x1="607.5" y1="383.0" x2="607.5" y2="388.0"/>
<line x1="464.0" y1="168.5" x2="469.0" y2="168.5"/>
<line x1="676.5" y1="383.0" x2="676.5" y2="388.0"/>
<line x1="464.0" y1="237.5" x2="469.0" y2="237.5"/>
<line x1="744.5" y1="383.0" x2="744.5" y2="388.0"/>
<line x1="464.0" y1="306.5" x2="469.0" y2="306.5"/>
<line x1="813.5" y1="383.0" x2="813.5" y2="388.0"/>
<line x1="464.0" y1="374.5" x2="469.0" y2="374.5"/>
</g>
<g id="labels" style="opacity:0.999">
<text transform="translate(46.95,402.90) scale(1.085,1)" font-size="13.9" text-anchor="middle">0</text>
<text transform="translate(36.20,36.25) scale(1.085,1)" font-size="13.9" text-anchor="end">0</text>
<text transform="translate(115.75,402.90) scale(1.085,1)" font-size="13.9" text-anchor="middle">100</text>
<text transform="translate(36.20,105.05) scale(1.085,1)" font-size="13.9" text-anchor="end">100</text>
<text transform="translate(184.56,402.90) scale(1.085,1)" font-size="13.9" text-anchor="middle">200</text>
<text transform="translate(36.20,173.86) scale(1.085,1)" font-size="13.9" text-anchor="end">200</text>
<text transform="translate(253.36,402.90) scale(1.085,1)" font-size="13.9" text-anchor="middle">300</text>
<text transform="translate(36.20,242.66) scale(1.085,1)" font-size="13.9" text-anchor="end">300</text>
<text transform="translate(322.16,402.90) scale(1.085,1)" font-size="13.9" text-anchor="middle">400</text>
<text transform="translate(36.20,311.46) scale(1.085,1)" font-size="13.9" text-anchor="end">400</text>
<text transform="translate(390.96,402.90) scale(1.085,1)" font-size="13.9" text-anchor="middle">500</text>
<text transform="translate(36.20,380.26) scale(1.085,1)" font-size="13.9" text-anchor="end">500</text>
<text transform="translate(469.67,402.90) scale(1.085,1)" font-size="13.9" text-anchor="middle">0</text>
<text transform="translate(459.20,36.25) scale(1.085,1)" font-size="13.9" text-anchor="end">0</text>
<text transform="translate(538.47,402.90) scale(1.085,1)" font-size="13.9" text-anchor="middle">100</text>
<text transform="translate(459.20,105.05) scale(1.085,1)" font-size="13.9" text-anchor="end">100</text>
<text transform="translate(607.28,402.90) scale(1.085,1)" font-size="13.9" text-anchor="middle">200</text>
<text transform="translate(459.20,173.86) scale(1.085,1)" font-size="13.9" text-anchor="end">200</text>
<text transform="translate(676.08,402.90) scale(1.085,1)" font-size="13.9" text-anchor="middle">300</text>
<text transform="translate(459.20,242.66) scale(1.085,1)" font-size="13.9" text-anchor="end">300</text>
<text transform="translate(744.88,402.90) scale(1.085,1)" font-size="13.9" text-anchor="middle">400</text>
<text transform="translate(459.20,311.46) scale(1.085,1)" font-size="13.9" text-anchor="end">400</text>
<text transform="translate(813.68,402.90) scale(1.085,1)" font-size="13.9" text-anchor="middle">500</text>
<text transform="translate(459.20,380.26) scale(1.085,1)" font-size="13.9" text-anchor="end">500</text>
<text transform="translate(222.00,22.00) scale(1.048,1)" font-size="17.5" text-anchor="middle">Predicted Ground Class</text>
<text transform="translate(644.30,22.00) scale(1.048,1)" font-size="17.5" text-anchor="middle">Actual Ground Class</text>
</g>
</svg></body></html>
